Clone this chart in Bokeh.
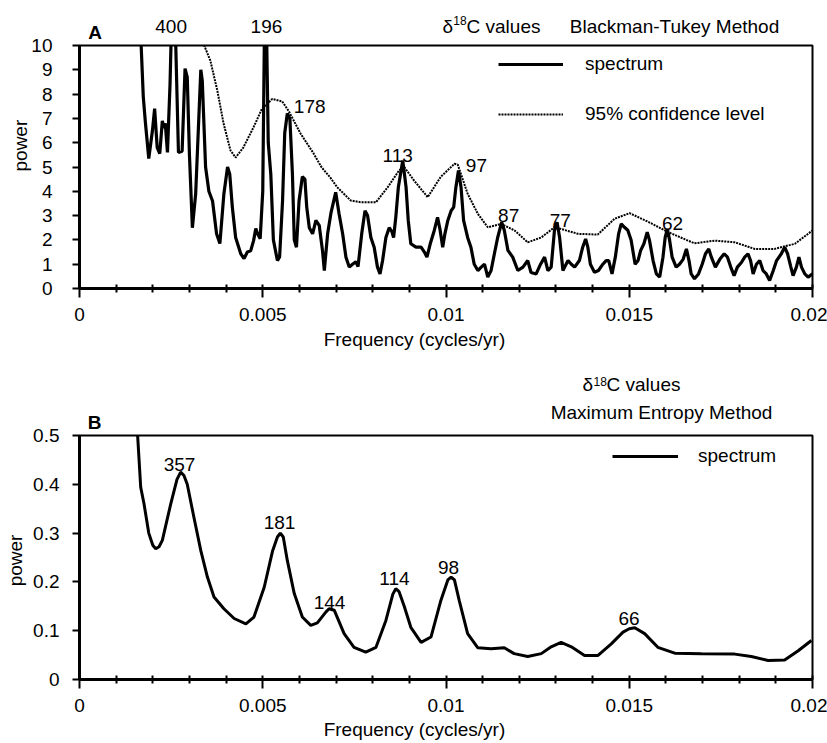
from bokeh.plotting import figure
from bokeh.models import Range1d, FixedTicker, Label, Legend, LegendItem, LinearAxis
from bokeh.layouts import column
from bokeh.embed import file_html
from bokeh.resources import INLINE

FONT = "Liberation Sans"

# ---------------- data ----------------
# Panel A: Blackman-Tukey spectrum (frequency in cycles/yr, power)
bt_freq = [0.00160, 0.00174, 0.00180, 0.00189, 0.00199, 0.00205, 0.00212, 0.00219, 0.00226, 0.00230,
           0.00234, 0.00240, 0.00247, 0.00256, 0.00270, 0.00280, 0.00288, 0.00294, 0.00300, 0.00308,
           0.00317, 0.00331, 0.00335, 0.00344, 0.00353, 0.00363, 0.00374, 0.00383, 0.00394, 0.00404,
           0.00410, 0.00417, 0.00426, 0.00440, 0.00449, 0.00458, 0.00467, 0.00475, 0.00481, 0.00486,
           0.00493, 0.00500, 0.00507, 0.00515, 0.00522, 0.00529, 0.00540, 0.00546, 0.00554, 0.00560,
           0.00567, 0.00574, 0.00581, 0.00586, 0.00592, 0.00599, 0.00608, 0.00615, 0.00620, 0.00627,
           0.00636, 0.00645, 0.00654, 0.00663, 0.00668, 0.00677, 0.00686, 0.00699, 0.00708, 0.00718,
           0.00727, 0.00736, 0.00745, 0.00754, 0.00760, 0.00770, 0.00779, 0.00786, 0.00795, 0.00804,
           0.00813, 0.00820, 0.00827, 0.00836, 0.00845, 0.00852, 0.00857, 0.00863, 0.00870, 0.00882,
           0.00891, 0.00897, 0.00904, 0.00918, 0.00932, 0.00941, 0.00948, 0.00957, 0.00968, 0.00977,
           0.00984, 0.00991, 0.00997, 0.01005, 0.01014, 0.01021, 0.01027, 0.01034, 0.01041, 0.01048,
           0.01059, 0.01068, 0.01077, 0.01087, 0.01096, 0.01105, 0.01114, 0.01123, 0.01132, 0.01141,
           0.01152, 0.01159, 0.01169, 0.01182, 0.01196, 0.01210, 0.01223, 0.01232, 0.01246, 0.01258,
           0.01269, 0.01278, 0.01287, 0.01296, 0.01303, 0.01310, 0.01319, 0.01333, 0.01342, 0.01351,
           0.01364, 0.01373, 0.01381, 0.01387, 0.01394, 0.01405, 0.01416, 0.01428, 0.01437, 0.01444,
           0.01453, 0.01462, 0.01471, 0.01478, 0.01487, 0.01496, 0.01505, 0.01516, 0.01524, 0.01531,
           0.01540, 0.01549, 0.01555, 0.01565, 0.01574, 0.01583, 0.01592, 0.01598, 0.01604, 0.01610,
           0.01617, 0.01628, 0.01637, 0.01647, 0.01656, 0.01663, 0.01669, 0.01678, 0.01689, 0.01699,
           0.01708, 0.01717, 0.01724, 0.01735, 0.01747, 0.01759, 0.01768, 0.01777, 0.01786, 0.01795,
           0.01806, 0.01815, 0.01824, 0.01831, 0.01838, 0.01847, 0.01856, 0.01865, 0.01874, 0.01883,
           0.01893, 0.01902, 0.01915, 0.01924, 0.01932, 0.01941, 0.01947, 0.01956, 0.01963, 0.01970,
           0.01979, 0.01988, 0.02000]
bt_power = [13.0, 7.9, 6.8, 5.35, 6.5, 7.4, 5.8, 5.55, 6.9, 6.6,
            6.8, 5.6, 8.4, 14.0, 5.6, 5.65, 9.05, 8.7, 5.5, 2.5,
            3.9, 9.0, 8.55, 5.0, 4.0, 3.6, 2.25, 1.85, 3.9, 5.0,
            4.7, 3.35, 2.1, 1.43, 1.23, 1.5, 1.55, 1.97, 2.47, 2.25,
            2.05, 4.0, 14.0, 6.0, 4.7, 2.0, 1.15, 1.3, 3.6, 6.4,
            7.2, 7.0, 4.7, 2.0, 1.7, 3.6, 4.6, 4.5, 3.35, 2.5,
            2.25, 2.8, 2.6, 1.56, 0.74, 2.25, 3.1, 3.96, 3.1, 2.25,
            1.29, 0.88, 1.0, 1.1, 0.9, 2.25, 3.2, 3.0, 2.1, 1.7,
            0.88, 0.6, 1.15, 2.1, 2.5, 2.35, 2.1, 2.93, 4.17, 5.27,
            4.17, 2.8, 1.84, 1.7, 1.7, 1.5, 1.29, 1.84, 2.39, 2.93,
            2.4, 1.7, 2.25, 2.8, 3.2, 3.35, 4.17, 4.86, 4.17, 2.8,
            2.1, 1.7, 1.0, 0.74, 0.88, 1.0, 0.47, 0.74, 1.43, 2.1,
            2.73, 2.4, 1.57, 1.29, 0.74, 0.88, 1.15, 0.66, 0.6, 1.0,
            1.29, 0.74, 0.88, 2.4, 2.73, 2.1, 0.74, 1.15, 1.0, 0.88,
            1.15, 1.7, 2.04, 1.7, 1.0, 0.67, 0.74, 1.0, 1.15, 1.15,
            0.6, 1.29, 2.25, 2.66, 2.52, 2.4, 2.0, 1.0, 1.15, 1.56,
            1.84, 2.32, 2.0, 1.15, 0.6, 0.47, 1.29, 2.1, 2.45, 2.0,
            1.29, 0.88, 1.0, 1.2, 1.63, 1.15, 0.6, 0.4, 0.6, 1.0,
            1.43, 1.63, 1.29, 0.88, 1.2, 1.43, 1.29, 0.88, 0.53, 0.88,
            1.07, 1.29, 1.43, 1.15, 0.6, 1.0, 1.15, 0.74, 0.6, 0.33,
            0.74, 1.15, 1.43, 1.7, 1.43, 0.88, 0.53, 0.88, 1.29, 0.88,
            0.6, 0.47, 0.6]

# Panel A: 95% confidence level
conf_freq = [0.00325, 0.00335, 0.00357, 0.00376, 0.00393, 0.00412, 0.00426, 0.00447, 0.00475, 0.00498,
             0.00526, 0.00553, 0.00571, 0.00603, 0.00639, 0.00660, 0.00685, 0.00703, 0.00740, 0.00768,
             0.00809, 0.00841, 0.00872, 0.00886, 0.00913, 0.00950, 0.00986, 0.01023, 0.01032, 0.01059,
             0.01087, 0.01114, 0.01150, 0.01187, 0.01223, 0.01260, 0.01296, 0.01314, 0.01360, 0.01414,
             0.01460, 0.01501, 0.01551, 0.01606, 0.01678, 0.01733, 0.01788, 0.01842, 0.01897, 0.01952,
             0.02000]
conf_power = [10.6, 10.2, 9.38, 8.15, 6.8, 5.68, 5.39, 5.8, 6.64, 7.4,
              7.8, 7.7, 7.3, 6.38, 5.55, 5.0, 4.55, 4.17, 3.62, 3.55,
              3.55, 4.17, 4.86, 5.0, 4.44, 3.76, 4.6, 5.13, 5.1, 3.9,
              3.07, 2.52, 2.66, 2.39, 1.9, 2.1, 2.52, 2.45, 2.25, 2.22,
              2.87, 3.1, 2.75, 2.32, 1.86, 1.97, 1.9, 1.63, 1.63, 1.84,
              2.39]

# Panel B: Maximum Entropy spectrum
me_freq = [0.00157, 0.00167, 0.00176, 0.00189, 0.00200, 0.00208, 0.00217, 0.00226, 0.00249, 0.00266,
           0.00276, 0.00285, 0.00294, 0.00312, 0.00331, 0.00349, 0.00367, 0.00394, 0.00422, 0.00454,
           0.00476, 0.00504, 0.00527, 0.00540, 0.00548, 0.00556, 0.00567, 0.00586, 0.00608, 0.00631,
           0.00649, 0.00672, 0.00681, 0.00695, 0.00722, 0.00749, 0.00781, 0.00809, 0.00836, 0.00855,
           0.00863, 0.00872, 0.00886, 0.00904, 0.00932, 0.00959, 0.00986, 0.01005, 0.01014, 0.01023,
           0.01036, 0.01059, 0.01087, 0.01123, 0.01159, 0.01186, 0.01223, 0.01260, 0.01287, 0.01314,
           0.01342, 0.01378, 0.01414, 0.01451, 0.01483, 0.01500, 0.01515, 0.01542, 0.01578, 0.01624,
           0.01697, 0.01788, 0.01833, 0.01879, 0.01924, 0.01961, 0.01997]
me_power = [0.52, 0.394, 0.36, 0.30, 0.275, 0.268, 0.272, 0.285, 0.36, 0.410,
            0.425, 0.418, 0.40, 0.333, 0.264, 0.21, 0.169, 0.145, 0.125, 0.114,
            0.128, 0.189, 0.264, 0.292, 0.300, 0.292, 0.244, 0.176, 0.128, 0.111,
            0.116, 0.138, 0.145, 0.142, 0.094, 0.066, 0.056, 0.066, 0.121, 0.175,
            0.186, 0.180, 0.15, 0.107, 0.076, 0.087, 0.162, 0.204, 0.21, 0.204,
            0.162, 0.094, 0.065, 0.063, 0.065, 0.053, 0.047, 0.053, 0.067, 0.076,
            0.067, 0.049, 0.049, 0.073, 0.097, 0.104, 0.106, 0.094, 0.066, 0.054,
            0.053, 0.052, 0.047, 0.039, 0.04, 0.059, 0.08]

# axes
x_tick_values = [0, 0.005, 0.01, 0.015, 0.02]
x_tick_labels = ["0", "0.005", "0.01", "0.015", "0.02"]
x_minor_ticks = [0.001, 0.002, 0.003, 0.004, 0.006, 0.007, 0.008, 0.009, 0.011, 0.012,
                 0.013, 0.014, 0.016, 0.017, 0.018, 0.019]
a_y_ticks = [0, 1, 2, 3, 4, 5, 6, 7, 8, 9, 10]
a_y_labels = ["0", "1", "2", "3", "4", "5", "6", "7", "8", "9", "10"]
b_y_ticks = [0, 0.1, 0.2, 0.3, 0.4, 0.5]
b_y_labels = ["0", "0.1", "0.2", "0.3", "0.4", "0.5"]

# peak annotations inside the frames (text, x, baseline y)
a_peak_text = ["178", "113", "97", "87", "77", "62"]
a_peak_x = [0.00628, 0.00868, 0.01083, 0.01171, 0.01312, 0.01618]
a_peak_y = [7.49, 5.47, 5.06, 3.0, 2.80, 2.67]
b_peak_text = ["357", "181", "144", "114", "98", "66"]
b_peak_x = [0.002729, 0.005457, 0.006821, 0.008595, 0.010068, 0.014993]
b_peak_y = [0.4406, 0.3217, 0.1578, 0.2070, 0.2295, 0.1250]

# texts around the frames, placed as labels of extra axes (centre positions)
a_top_text = ["400", "196", "\u03b4", "C values", "Blackman-Tukey Method"]
a_top_x = [0.00250, 0.00510, 0.010049, 0.011569, 0.016235]
a_sup_text = ["18"]
a_sup_x = [0.010379]
b_top1_text = ["Maximum Entropy Method"]
b_top1_x = [0.015880]
b_top2_text = ["\u03b4", "C values"]
b_top2_x = [0.013869, 0.015389]
b_sup_text = ["18"]
b_sup_x = [0.014206]
xlabel_text = ["Frequency (cycles/yr)"]
xlabel_x = [0.00914]
a_ylabel_y = [5.88]
b_ylabel_y = [0.2439]


def make_fig(height, y_max, y_ticks, y_labels, y_standoff, top, bottom):
    p = figure(width=827, height=height, x_range=Range1d(0, 0.02), y_range=Range1d(0, y_max),
               output_backend="svg", toolbar_location=None,
               min_border_left=79, min_border_right=15, min_border_top=top, min_border_bottom=bottom)
    p.title.visible = False
    p.xgrid.visible = False
    p.ygrid.visible = False
    p.outline_line_color = "black"
    p.outline_line_width = 2
    p.outline_line_alpha = 1
    p.background_fill_color = "white"
    p.border_fill_color = "white"

    p.xaxis.ticker = FixedTicker(ticks=x_tick_values, minor_ticks=x_minor_ticks)
    p.xaxis.major_label_overrides = dict(zip(x_tick_values, x_tick_labels))
    p.xaxis.major_tick_in = 4
    p.xaxis.major_tick_out = 9
    p.xaxis.minor_tick_in = 4
    p.xaxis.minor_tick_out = 4
    p.xaxis.major_label_standoff = 10

    p.yaxis.ticker = FixedTicker(ticks=y_ticks, minor_ticks=[])
    p.yaxis.major_label_overrides = dict(zip(y_ticks, y_labels))
    p.yaxis.major_tick_in = 0
    p.yaxis.major_tick_out = 7
    p.yaxis.minor_tick_line_color = None
    p.yaxis.major_label_standoff = y_standoff

    for ax in (p.xaxis, p.yaxis):
        ax.axis_line_width = 3
        ax.axis_line_color = "black"
        ax.major_tick_line_width = 2
        ax.major_tick_line_color = "black"
        ax.minor_tick_line_width = 2
        ax.major_label_text_font = FONT
        ax.major_label_text_font_size = "19px"
        ax.major_label_text_color = "black"
    p.xaxis.minor_tick_line_color = "black"
    return p


def text_axis(ticks, labels, standoff, size="19px", orientation="horizontal"):
    return LinearAxis(ticker=FixedTicker(ticks=ticks, minor_ticks=[]),
                      major_label_overrides=dict(zip(ticks, labels)),
                      major_label_standoff=standoff, major_label_orientation=orientation,
                      major_label_text_font=FONT, major_label_text_font_size=size,
                      major_label_text_color="black",
                      axis_line_color=None, major_tick_line_color=None, minor_tick_line_color=None,
                      major_tick_in=0, major_tick_out=0, minor_tick_in=0, minor_tick_out=0)


def panel_label(p, x, y, text, place):
    p.add_layout(Label(x=x, y=y, text=text, text_font=FONT, text_font_size="19px",
                       text_font_style="bold", text_align="center", text_baseline="alphabetic",
                       text_color="black"), place)


def inner_text(p, xs, ys, texts):
    for t, x, y in zip(texts, xs, ys):
        p.add_layout(Label(x=x, y=y, text=t, text_font=FONT, text_font_size="19px",
                           text_align="center", text_baseline="alphabetic", text_color="black"))


# ---------------- Panel A ----------------
pA = make_fig(360, 10, a_y_ticks, a_y_labels, 20, 45, 72)
rA_spec = pA.line(bt_freq, bt_power, line_color="black", line_width=3.2)
rA_conf = pA.line(conf_freq, conf_power, line_color="black", line_width=2, line_dash="2 1")

legA = Legend(items=[LegendItem(label="spectrum", renderers=[rA_spec]),
                     LegendItem(label="95% confidence level", renderers=[rA_conf])],
              location=(419, 163), glyph_width=65, glyph_height=20, label_height=20,
              label_standoff=22, spacing=28, padding=0, margin=0,
              border_line_alpha=0, background_fill_alpha=0,
              label_text_font=FONT, label_text_font_size="19px", label_text_color="black")
pA.add_layout(legA)
inner_text(pA, a_peak_x, a_peak_y, a_peak_text)

pA.add_layout(text_axis(a_top_x, a_top_text, 9), "above")
pA.add_layout(text_axis(a_sup_x, a_sup_text, -12, size="12px"), "above")
pA.add_layout(text_axis(xlabel_x, xlabel_text, 5), "below")
pA.add_layout(text_axis(a_ylabel_y, ["power"], -3, orientation="vertical"), "left")
panel_label(pA, 0.000423, 10.53, "A", "right")

# ---------------- Panel B ----------------
pB = make_fig(383, 0.5, b_y_ticks, b_y_labels, 13, 75, 64)
rB_spec = pB.line(me_freq, me_power, line_color="black", line_width=3)

legB = Legend(items=[LegendItem(label="spectrum", renderers=[rB_spec])],
              location=(533, 212), glyph_width=66, glyph_height=20, label_height=20,
              label_standoff=20, spacing=0, padding=0, margin=0,
              border_line_alpha=0, background_fill_alpha=0,
              label_text_font=FONT, label_text_font_size="19px", label_text_color="black")
pB.add_layout(legB)
inner_text(pB, b_peak_x, b_peak_y, b_peak_text)

pB.add_layout(text_axis(b_top1_x, b_top1_text, 13), "above")
pB.add_layout(text_axis(b_top2_x, b_top2_text, 4), "above")
pB.add_layout(text_axis(b_sup_x, b_sup_text, -15, size="12px"), "above")
pB.add_layout(text_axis(xlabel_x, xlabel_text, 4), "below")
pB.add_layout(text_axis(b_ylabel_y, ["power"], 4, orientation="vertical"), "left")
panel_label(pB, 0.000409, 0.5266, "B", "right")

layout = column(pA, pB, spacing=0)
open("out.html", "w").write(file_html(layout, INLINE))
